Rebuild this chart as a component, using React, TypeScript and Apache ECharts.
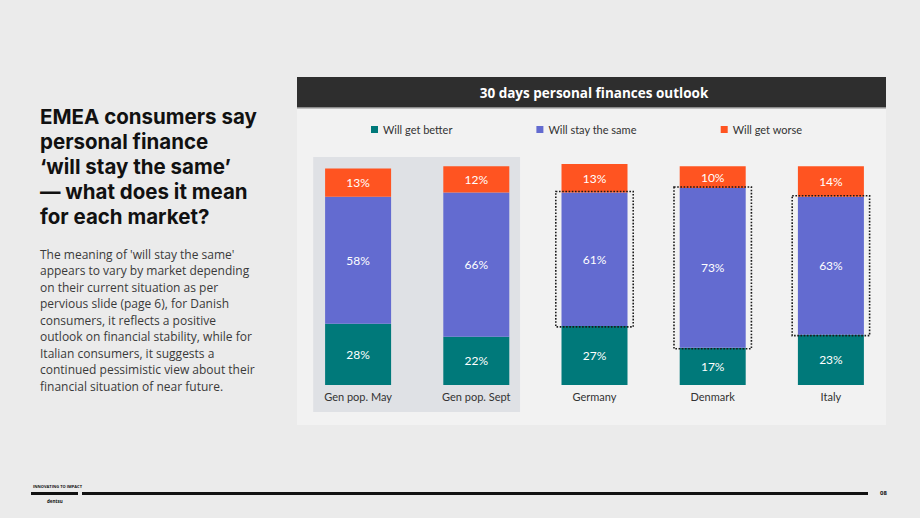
import React, { useEffect, useRef } from "react";
import * as echarts from "echarts";

// Survey groups and the share of respondents per answer (%)
const categories = ["Gen pop. May", "Gen pop. Sept", "Germany", "Denmark", "Italy"];
const willGetBetter = [28, 22, 27, 17, 23];
const willStaySame = [58, 66, 61, 73, 63];
const willGetWorse = [13, 12, 13, 10, 14];

// Groups shown on the shaded panel, and markets whose "stay the same" share is outlined
const generalPopulation = ["Gen pop. May", "Gen pop. Sept"];
const outlinedMarkets = ["Germany", "Denmark", "Italy"];

const seriesNames = ["Will get better", "Will stay the same", "Will get worse"];
const colors = ["#00797a", "#636bd0", "#ff5421"];

const FONT = "Lato, 'Noto Sans', sans-serif";
const SLIDE_FONT = "'Open Sans', 'Noto Sans', sans-serif";
const TITLE_FONT = "Inter, 'Open Sans', sans-serif";

const titleLines = [
  "EMEA consumers say",
  "personal finance",
  "\u2018will stay the same\u2019",
  "\u2014 what does it mean",
  "for each market?",
];
const bodyLines = [
  "The meaning of 'will stay the same'",
  "appears to vary by market depending",
  "on their current situation as per",
  "pervious slide (page 6), for Danish",
  "consumers, it reflects a positive",
  "outlook on financial stability, while for",
  "Italian consumers, it suggests a",
  "continued pessimistic view about their",
  "financial situation of near future.",
];

export default function App() {
  const ref = useRef<HTMLDivElement>(null);

  useEffect(() => {
    if (!ref.current) return;
    const chart = echarts.init(ref.current, undefined, { renderer: "svg" });

    const shadeData = [
      [categories.indexOf(generalPopulation[0]), categories.indexOf(generalPopulation[1])],
    ];
    const outlineData = outlinedMarkets.map((m) => {
      const i = categories.indexOf(m);
      return [i, willGetBetter[i], willGetBetter[i] + willStaySame[i]];
    });

    const barSeries = [willGetBetter, willStaySame, willGetWorse].map((vals, k) => ({
      name: seriesNames[k],
      type: "bar",
      stack: "total",
      barWidth: 66,
      z: 3,
      clip: false,
      itemStyle: { color: colors[k] },
      label: {
        show: true,
        position: "inside",
        color: "#ffffff",
        fontFamily: FONT,
        fontSize: 12,
        formatter: "{c}%",
      },
      data: vals,
    }));

    const titleTexts = titleLines.map((line, i) => ({
      type: "text",
      x: 40,
      y: 116 + i * 25,
      style: {
        text: line,
        fill: "#111111",
        font: `bold 20.5px ${TITLE_FONT}`,
        verticalAlign: "middle",
      },
    }));
    const bodyTexts = bodyLines.map((line, i) => ({
      type: "text",
      x: 40,
      y: 254 + i * 16.5,
      style: {
        text: line,
        fill: "#3a3a3a",
        font: `12px ${SLIDE_FONT}`,
        verticalAlign: "middle",
      },
    }));

    chart.setOption({
      animation: false,
      backgroundColor: "#ebebeb",
      textStyle: { fontFamily: FONT },
      graphic: [
        // chart panel and its header
        { type: "rect", z: -10, shape: { x: 297, y: 77, width: 589, height: 348 }, style: { fill: "#f2f2f2" } },
        { type: "rect", z: -9, shape: { x: 297, y: 77, width: 589, height: 31 }, style: { fill: "#2e2e2e" } },
        { type: "rect", z: -9, shape: { x: 297, y: 107, width: 589, height: 1.5 }, style: { fill: "#8c8c8c" } },
        {
          type: "text",
          z: 10,
          x: 594,
          y: 92.5,
          style: {
            text: "30 days personal finances outlook",
            fill: "#ffffff",
            font: `bold 13.5px ${SLIDE_FONT}`,
            align: "center",
            verticalAlign: "middle",
          },
        },
        // slide title and commentary
        ...titleTexts,
        ...bodyTexts,
        // footer
        {
          type: "text",
          x: 33,
          y: 484.5,
          style: { text: "INNOVATING TO IMPACT", fill: "#111", font: `bold 4px ${SLIDE_FONT}` },
        },
        { type: "rect", shape: { x: 31, y: 492, width: 47, height: 3 }, style: { fill: "#111111" } },
        { type: "rect", shape: { x: 82, y: 492, width: 786, height: 3 }, style: { fill: "#111111" } },
        {
          type: "text",
          x: 47,
          y: 498,
          style: { text: "dentsu", fill: "#111", font: `bold 4.5px ${SLIDE_FONT}` },
        },
        {
          type: "text",
          x: 880,
          y: 490,
          style: { text: "08", fill: "#111", font: `bold 6px ${SLIDE_FONT}` },
        },
      ],
      legend: {
        data: seriesNames,
        left: 366,
        top: 119,
        icon: "rect",
        itemWidth: 7,
        itemHeight: 7,
        itemGap: 84,
        textStyle: { color: "#333333", fontSize: 11, fontFamily: FONT },
        selectedMode: false,
      },
      grid: { left: 299, right: 30, top: 164, bottom: 133 },
      xAxis: {
        type: "category",
        data: categories,
        z: 6,
        axisLine: { show: false },
        axisTick: { show: false },
        axisLabel: { color: "#333333", fontSize: 11, fontFamily: FONT, margin: 6 },
      },
      yAxis: { type: "value", min: 0, max: 101, show: false, splitLine: { show: false } },
      series: [
        {
          type: "custom",
          name: "shade",
          z: 1,
          silent: true,
          data: shadeData,
          renderItem: (params: any, api: any) => {
            const a = api.coord([api.value(0), 0]);
            const b = api.coord([api.value(1), 101]);
            const band = api.size([1, 0])[0];
            const x0 = a[0] - band * 0.38;
            const x1 = b[0] + band * 0.37;
            return {
              type: "rect",
              shape: { x: x0, y: b[1] - 7, width: x1 - x0, height: a[1] - b[1] + 34 },
              style: { fill: "#dfe1e5" },
            };
          },
        },
        ...barSeries,
        {
          type: "custom",
          name: "outline",
          z: 5,
          silent: true,
          data: outlineData,
          renderItem: (params: any, api: any) => {
            const lo = api.coord([api.value(0), api.value(1)]);
            const hi = api.coord([api.value(0), api.value(2)]);
            const band = api.size([1, 0])[0];
            const w = band * 0.655;
            return {
              type: "rect",
              shape: { x: lo[0] - w / 2, y: hi[1] - 1, width: w, height: lo[1] - hi[1] + 2 },
              style: { fill: "none", stroke: "#1a1a1a", lineWidth: 1.6, lineDash: [1.6, 1.6] },
            };
          },
        },
      ],
    });

    return () => chart.dispose();
  }, []);

  return (
    <div
      ref={ref}
      style={{ position: "fixed", left: 0, top: 0, width: 920, height: 518 }}
    />
  );
}
